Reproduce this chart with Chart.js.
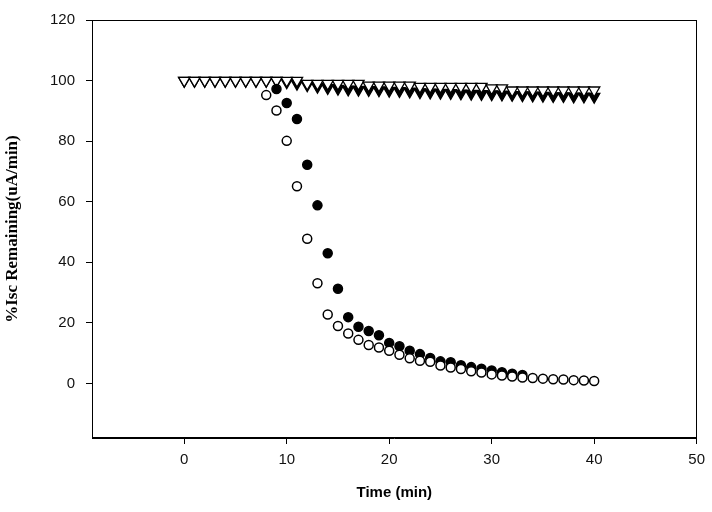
<!DOCTYPE html>
<html>
<head>
<meta charset="utf-8">
<script src="https://cdn.jsdelivr.net/npm/chart.js@4/dist/chart.umd.min.js"></script>
<style>
  html, body { margin: 0; padding: 0; background: #fff; }
  #wrap { width: 712px; height: 512px; }
</style>
</head>
<body>
<div id="wrap"><canvas id="c" width="712" height="512"></canvas></div>
<script>
// ---- data ----
const xTicks = [0, 10, 20, 30, 40, 50];
const yTicks = [0, 20, 40, 60, 80, 100, 120];

const openCircleTime = [8,9,10,11,12,13,14,15,16,17,18,19,20,21,22,23,24,25,26,27,28,29,30,31,32,33,34,35,36,37,38,39,40];
const openCircleValue = [95.2,90.1,80.1,65.1,47.8,33.1,22.8,19.0,16.5,14.4,12.7,11.9,10.8,9.5,8.3,7.5,7.2,5.9,5.3,4.8,4.0,3.6,3.0,2.6,2.3,2.0,1.8,1.6,1.4,1.3,1.1,1.0,0.8];

const filledCircleTime = [9,10,11,12,13,14,15,16,17,18,19,20,21,22,23,24,25,26,27,28,29,30,31,32,33];
const filledCircleValue = [97.2,92.6,87.3,72.2,58.8,43.0,31.3,21.9,18.7,17.3,15.9,13.4,12.3,10.8,9.7,8.4,7.3,7.0,6.0,5.4,4.9,4.3,3.7,3.2,2.8];

const triangleTime = [0,1,2,3,4,5,6,7,8,9,10,11,12,13,14,15,16,17,18,19,20,21,22,23,24,25,26,27,28,29,30,31,32,33,34,35,36,37,38,39,40];
const openTriangleValue = [100,100,100,100,100,100,100,100,100,100,100,100,99,99,99,99,99,99,98.4,98.4,98.4,98.4,98.4,98,98,98,98,98,98,98,97.5,97.5,96.8,96.8,96.8,96.8,96.8,96.8,96.8,96.8,96.8];
const filledTriangleValue = [100,100,100,100,100,100,100,100,100,100,99.5,99,98.5,98,97.6,97.3,97.1,97,96.9,96.8,96.7,96.6,96.4,96.2,96.1,96,95.9,95.8,95.7,95.6,95.5,95.4,95.3,95.2,95.1,95.0,94.9,94.9,94.8,94.8,94.7];

const pts = (xs, ys) => xs.map((x, i) => ({ x: x, y: ys[i] }));

const frame = {
  id: 'frame',
  afterDatasetsDraw(chart) {
    const a = chart.chartArea, ctx = chart.ctx;
    ctx.save();
    ctx.strokeStyle = '#000';
    ctx.lineWidth = 1;
    ctx.strokeRect(Math.round(a.left) + 0.5, Math.round(a.top) + 0.5,
                   Math.round(a.right - a.left) - 1, Math.round(a.bottom - a.top) - 1);
    ctx.restore();
  }
};

new Chart(document.getElementById('c'), {
  type: 'scatter',
  data: {
    datasets: [
      { label: 'open circles', data: pts(openCircleTime, openCircleValue),
        pointStyle: 'circle', pointRadius: 4.5, pointBorderWidth: 1.5,
        pointBackgroundColor: '#fff', pointBorderColor: '#000', showLine: false },
      { label: 'filled circles', data: pts(filledCircleTime, filledCircleValue),
        pointStyle: 'circle', pointRadius: 4.5, pointBorderWidth: 1.5,
        pointBackgroundColor: '#000', pointBorderColor: '#000', showLine: false },
      { label: 'open triangles', data: pts(triangleTime, openTriangleValue),
        pointStyle: 'triangle', rotation: 180, pointRotation: 180, pointRadius: 6.5, pointBorderWidth: 1.3,
        pointBackgroundColor: '#fff', pointBorderColor: '#000', showLine: false },
      { label: 'filled triangles', data: pts(triangleTime, filledTriangleValue),
        pointStyle: 'triangle', rotation: 180, pointRotation: 180, pointRadius: 6.5, pointBorderWidth: 1.3,
        pointBackgroundColor: '#000', pointBorderColor: '#000', showLine: false }
    ]
  },
  options: {
    responsive: false,
    animation: false,
    events: [],
    layout: { padding: { top: 16, right: 15, left: 0, bottom: 0 } },
    plugins: { legend: { display: false }, tooltip: { enabled: false } },
    scales: {
      x: {
        type: 'linear', min: -9, max: 50,
        afterBuildTicks: (s) => { s.ticks = xTicks.map(v => ({ value: v })); },
        afterFit: (s) => { s.height = 74; },
        grid: { display: true, drawOnChartArea: false, drawTicks: true, tickLength: 6, tickColor: '#000', tickWidth: 1 },
        border: { display: true, color: '#000', width: 1 },
        ticks: { color: '#111', padding: 7, font: { family: 'Liberation Sans, Arial, sans-serif', size: 15 }, maxRotation: 0 },
        title: { display: true, text: 'Time (min)', color: '#000',
                 font: { family: 'Liberation Sans, Arial, sans-serif', size: 15, weight: 'bold' },
                 padding: { top: 0, bottom: 10 } }
      },
      y: {
        type: 'linear', min: -18, max: 120,
        afterBuildTicks: (s) => { s.ticks = yTicks.map(v => ({ value: v })); },
        afterFit: (s) => { s.width = 92; },
        grid: { display: true, drawOnChartArea: false, drawTicks: true, tickLength: 6, tickColor: '#000', tickWidth: 1 },
        border: { display: true, color: '#000', width: 1 },
        ticks: { color: '#111', padding: 11, font: { family: 'Liberation Sans, Arial, sans-serif', size: 15 } },
        title: { display: true, text: '%Isc Remaining(uA/min)', color: '#000',
                 font: { family: 'Liberation Serif, Times New Roman, serif', size: 17, weight: 'bold' },
                 padding: { top: 2, bottom: 0 } }
      }
    }
  },
  plugins: [frame]
});
</script>
</body>
</html>
